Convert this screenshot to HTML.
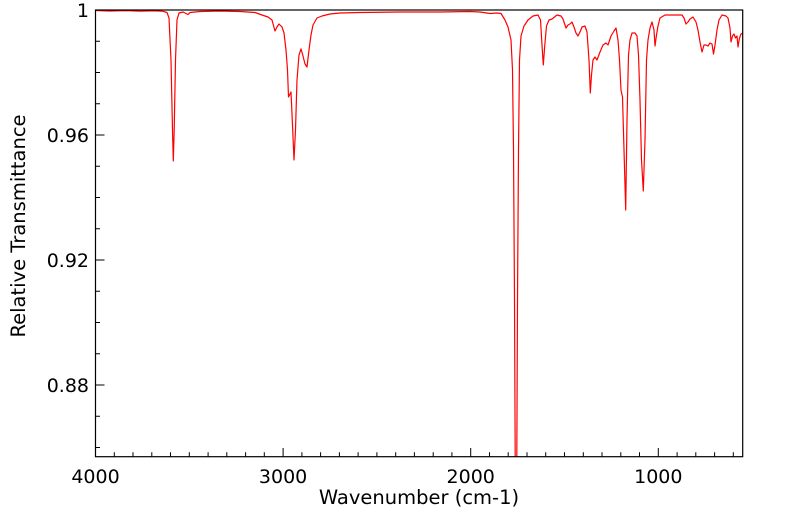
<!DOCTYPE html>
<html><head><meta charset="utf-8"><style>
html,body{margin:0;padding:0;background:#fff;}
svg{display:block;font-family:"DejaVu Sans","Liberation Sans",sans-serif;}
</style></head><body>
<svg width="799" height="516" viewBox="0 0 799 516" xmlns="http://www.w3.org/2000/svg">
<rect width="799" height="516" fill="#fff"/>
<defs><clipPath id="c"><rect x="95.5" y="10" width="647.2" height="446.7"/></clipPath></defs>
<g clip-path="url(#c)">
<polyline fill="none" stroke="#ff0000" stroke-width="1.2" stroke-linejoin="round" points="
95.5,10.5 110,11 125,10.6 140,11.2 155,10.8 163,11.3 167,12.5 169,18 171,60 172.5,130 173.3,161 174.2,130 175.5,60 177,20 179,13 183,12 186,13.5 188,14.5 190,12.5 200,11.5 220,11 240,11.5 255,12.5 262,15 268,17 272,20 275,31 277,27 279,24 282,27 284,33 286,50 287.5,70 288.5,97 290,94 291,92 292.5,125 294,160 295.5,130 297,80 299,55 301,49 302.5,54 305,64 307,67 309,50 311,35 313,25 317,18 322,16 330,14 340,13 360,12.5 400,12 440,12 470,11.5 480,12 490,13.5 497,13 501,13.5 505,20 508,27 511,40 512.5,70 513.5,150 514.5,300 515.2,460 516.8,460 517.5,300 518.5,150 519.5,60 521,36 524,26 528,20 533,16 538,15 540.5,20 542,45 543.3,65 544.8,45 546.5,26 549,20 552,19 557,15 561,16 563,19 566,28 568,25 570,24 572,22 574,27 576,33 578,36 580,32 582,27 585,26 587,32 589,60 590.3,93 591.5,75 593,60 595,57 597,60 600,52 603,45 606,43 608,45 611,36 614,31 616,28 618,40 619.5,60 621,90 622.5,97 624,150 625.7,210 627,120 628.5,55 630,40 632,33 635,33 637,36 638.5,55 640,100 641.5,160 643.3,191 645,140 646.5,60 648,40 650,28 652,22 654,30 655,46 656.5,35 658,26 660,18 665,15 675,15 682,15 684,18 686,24 688,22 690,19 693,17 696,22 698,30 700,42 702,52 704,45 706,45 708,46 710,43 712,44 713.5,54 715,45 717,30 719,20 722,15 726,16 728,18 730,28 731,42 732.5,36 734,34 735.5,38 737,36 738,47 739.5,38 741,34 743,33"/>
</g>
<rect x="95.5" y="10" width="647.2" height="446.7" stroke="#000" stroke-width="1.2" fill="none"/>
<g stroke="#000" stroke-width="1">
<line x1="95.5" y1="456.7" x2="95.5" y2="448"/>
<line x1="283.1" y1="456.7" x2="283.1" y2="448"/>
<line x1="470.7" y1="456.7" x2="470.7" y2="448"/>
<line x1="658.3" y1="456.7" x2="658.3" y2="448"/>
<path d="M114.3 456.7v-4.5M133 456.7v-4.5M151.8 456.7v-4.5M170.5 456.7v-4.5M189.3 456.7v-4.5M208.1 456.7v-4.5M226.8 456.7v-4.5M245.6 456.7v-4.5M264.3 456.7v-4.5M301.9 456.7v-4.5M320.6 456.7v-4.5M339.4 456.7v-4.5M358.1 456.7v-4.5M376.9 456.7v-4.5M395.7 456.7v-4.5M414.4 456.7v-4.5M433.2 456.7v-4.5M451.9 456.7v-4.5M489.5 456.7v-4.5M508.2 456.7v-4.5M527 456.7v-4.5M545.7 456.7v-4.5M564.5 456.7v-4.5M583.3 456.7v-4.5M602 456.7v-4.5M620.8 456.7v-4.5M639.5 456.7v-4.5M677.1 456.7v-4.5M695.8 456.7v-4.5M714.6 456.7v-4.5M733.3 456.7v-4.5"/>
<path d="M95.5 10h9M95.5 135h9M95.5 260h9M95.5 385h9"/>
<path d="M95.5 41.25h4.5M95.5 72.5h4.5M95.5 103.75h4.5M95.5 166.25h4.5M95.5 197.5h4.5M95.5 228.75h4.5M95.5 291.25h4.5M95.5 322.5h4.5M95.5 353.75h4.5M95.5 416.25h4.5M95.5 447.5h4.5"/>
</g>
<g font-size="19" fill="#000" text-anchor="end">
<text x="89" y="17">1</text>
<text x="89" y="142">0.96</text>
<text x="89" y="267">0.92</text>
<text x="89" y="392">0.88</text>
</g>
<g font-size="19" fill="#000" text-anchor="middle">
<text x="95.5" y="483">4000</text>
<text x="283.1" y="483">3000</text>
<text x="470.7" y="483">2000</text>
<text x="658.3" y="483">1000</text>
</g>
<g font-size="19.5" fill="#000" text-anchor="middle">
<text x="419" y="504">Wavenumber (cm-1)</text>
<text transform="translate(25,226) rotate(-90)">Relative Transmittance</text>
</g>
</svg>
</body></html>
